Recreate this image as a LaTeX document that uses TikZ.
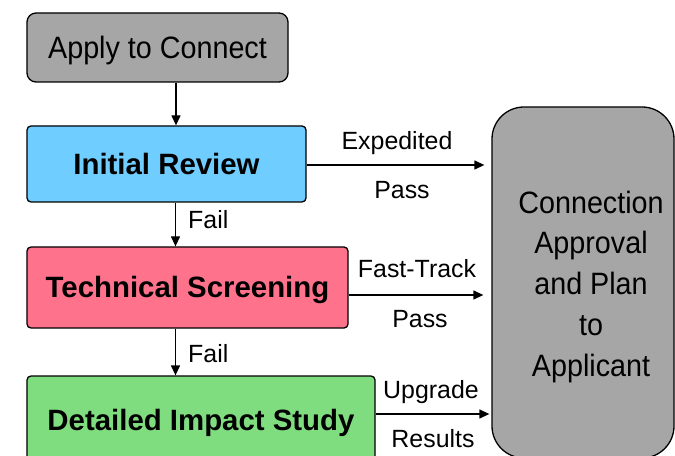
\documentclass[tikz,border=0pt]{standalone}
\usepackage{fontspec}
\setmainfont{Liberation Sans}
\newfontfamily\widefont{Liberation Sans}[FakeStretch=0.93]
\usetikzlibrary{arrows.meta,calc}

\definecolor{boxgray}{HTML}{A6A6A6}
\definecolor{reviewblue}{HTML}{6FCDFF}
\definecolor{screenpink}{HTML}{FF728C}
\definecolor{studygreen}{HTML}{7FDD7F}

\begin{document}
\begin{tikzpicture}[x=1bp,y=-1bp,
  stage/.style={draw=black, line width=1.3bp, inner sep=0pt, rounded corners=4bp,
    font=\fontsize{29.5}{34}\selectfont\bfseries, text height=21bp, text depth=0bp},
  startbox/.style={draw=black, line width=1.3bp, inner sep=0pt, rounded corners=9bp,
    fill=boxgray, font=\widefont\fontsize{31}{36}\selectfont, text height=22bp, text depth=0bp},
  arr/.style={line width=1.3bp, -{Triangle[length=10bp,width=9bp]}},
  lbl/.style={font=\fontsize{25}{30}\selectfont, inner sep=0pt, anchor=base},
]
\useasboundingbox (0,0) rectangle (675,456);

% process stages
\node[startbox, minimum width=261bp, minimum height=69bp] (apply) at (157.5,47.5) {Apply to Connect};
\node[stage, fill=reviewblue, minimum width=279bp, minimum height=76bp] (initial) at (166.5,164) {Initial Review};
\node[stage, fill=screenpink, minimum width=321bp, minimum height=81bp] (tech) at (187.5,287.5) {Technical Screening};
\node[stage, fill=studygreen, minimum width=348bp, minimum height=87bp] (detail) at (201,419.5) {Detailed Impact Study};

% outcome box
\node[draw=black, line width=1.3bp, fill=boxgray, rounded corners=32bp,
  minimum width=182bp, minimum height=351bp, inner sep=0pt] (approve) at (583,282.5) {};
\node[anchor=north, inner sep=0pt, align=center, font=\widefont\fontsize{31}{41}\selectfont]
  (approvetext) at (591,190.5) {Connection\\Approval\\and Plan\\to\\Applicant};

% vertical flow
\coordinate (vx) at (176,0);
\coordinate (vy) at (175.5,0);
\draw[arr] (apply.south -| vx) -- (initial.north -| vx);
\draw[arr] (initial.south -| vy) -- (tech.north -| vy);
\draw[arr] (tech.south -| vy) -- (detail.north -| vy);
\node[lbl, anchor=base west] (fail1) at (188,229) {Fail};
\node[lbl, anchor=base west] (fail2) at (188,362) {Fail};

% horizontal flow into the outcome box
\draw[arr, shorten >=7bp] ($(initial.east)+(0,1)$) coordinate (h1) -- (h1 -| approve.west);
\draw[arr, shorten >=8bp] ($(tech.east)+(0,7.5)$) coordinate (h2) -- (h2 -| approve.west);
\draw[arr, shorten >=2bp] ($(detail.east)+(0,-5.5)$) coordinate (h3) -- (h3 -| approve.west);

\node[lbl] (expedited) at (397,150) {Expedited};
\node[lbl] (pass1) at (402,199) {Pass};
\node[lbl] (fasttrack) at (417,278) {Fast-Track};
\node[lbl] (pass2) at (420,328) {Pass};
\node[lbl] (upgrade) at (431,398) {Upgrade};
\node[lbl] (results) at (433,447) {Results};
\end{tikzpicture}
\end{document}
